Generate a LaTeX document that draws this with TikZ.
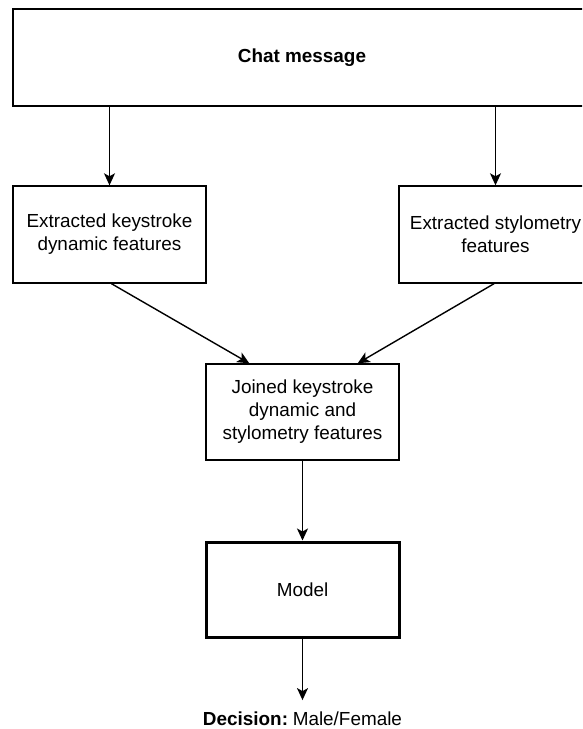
\documentclass[tikz,border=0pt]{standalone}
\usepackage{fontspec}
\setmainfont{Liberation Sans}
\usetikzlibrary{arrows.meta,calc}
\begin{document}
\begin{tikzpicture}[x=1pt,y=-1pt,
  box/.style={draw=black,line width=1.4pt,rectangle,align=center,inner sep=0pt,
    font=\fontsize{18.9}{23}\selectfont},
  thickbox/.style={box,line width=3pt},
  arr/.style={line width=1.4pt,-{Stealth[length=12pt,width=11pt,inset=3pt]}}]
\useasboundingbox (0,0) rectangle (582,729);
\clip (0,0) rectangle (582,729);
\node[box,minimum width=578pt,minimum height=97pt] (top) at (302,57.5) {\textbf{Chat message}};
\node[box,minimum width=193pt,minimum height=97pt] (left) at (109.5,234.5) {Extracted keystroke\\dynamic features};
\node[box,minimum width=193pt,minimum height=97pt] (right) at (495.5,234.5) {Extracted stylometry\\features};
\node[box,minimum width=193pt,minimum height=96pt] (mid) at (302.5,412) {Joined keystroke\\dynamic and\\stylometry features};
\node[thickbox,minimum width=193pt,minimum height=95pt] (model) at (302.5,589.5) {Model};
\node[anchor=base,inner xsep=0pt,inner ysep=11.5pt,font=\fontsize{18.9}{23}\selectfont] (dec) at (302.5,725.5) {\textbf{Decision:}\hspace{0.25em}Male/Female};
\draw[arr] (left.north |- top.south) -- (left.north);
\draw[arr] (right.north |- top.south) -- (right.north);
\draw[arr] ([xshift=2pt]left.south) -- ([xshift=44pt]mid.north west);
\draw[arr] ([xshift=-1.5pt]right.south) -- ([xshift=-42pt]mid.north east);
\draw[arr] (mid.south) -- (model.north);
\draw[arr] (model.south) -- (dec.north);
\end{tikzpicture}
\end{document}
